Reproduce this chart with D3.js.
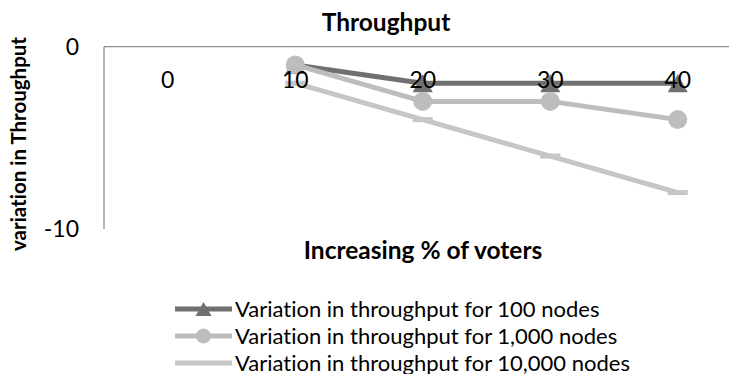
<!DOCTYPE html>
<html>
<head>
<meta charset="utf-8">
<script src="https://cdn.jsdelivr.net/npm/d3@7"></script>
<style>
  html, body { margin: 0; padding: 0; background: #fff; }
  svg { display: block; font-family: Lato, "Open Sans", sans-serif; font-variant-ligatures: none; }
</style>
</head>
<body>
<svg id="chart" width="729" height="374"></svg>
<script>
// Categories on the x axis (% of voters)
const categories = ["0", "10", "20", "30", "40"];

// Variation in throughput per network size (null = no value)
const nodes100 = [null, -1, -2, -2, -2];
const nodes1000 = [null, -1, -3, -3, -4];
const nodes10000 = [null, -2, -4, -6, -8];

const seriesNames = [
  "Variation in throughput for 100 nodes",
  "Variation in throughput for 1,000 nodes",
  "Variation in throughput for 10,000 nodes"
];

const yTicks = [0, -10];

const series = [
  { name: seriesNames[0], values: nodes100, color: "#707070", marker: "triangle" },
  { name: seriesNames[1], values: nodes1000, color: "#bdbdbd", marker: "circle" },
  { name: seriesNames[2], values: nodes10000, color: "#c6c6c6", marker: "dash" }
];

const svg = d3.select("#chart");
const plot = { left: 104, right: 741.5, top: 46.7, bottom: 229 };

const x = d3.scaleBand().domain(categories).range([plot.left, plot.right]);
const y = d3.scaleLinear().domain([-10, 0]).range([plot.bottom, plot.top]);
const cx = c => x(c) + x.bandwidth() / 2;

// Axis lines: horizontal axis sits at y = 0 (top of the plot)
const axisColor = "#8f8f8f";
svg.append("line")
  .attr("x1", plot.left).attr("x2", plot.right)
  .attr("y1", y(0)).attr("y2", y(0))
  .attr("stroke", axisColor).attr("stroke-width", 1.3);
svg.append("line")
  .attr("x1", plot.left).attr("x2", plot.left)
  .attr("y1", y(0)).attr("y2", y(-10))
  .attr("stroke", axisColor).attr("stroke-width", 1.3);

// Y tick labels (plain hyphen for negatives)
const yAxis = d3.axisLeft(y).tickValues(yTicks).tickSize(0).tickPadding(0)
  .tickFormat(d => String(d));
const yG = svg.append("g").attr("transform", `translate(${plot.left - 25},0)`).call(yAxis);
yG.select(".domain").remove();
yG.selectAll("text").attr("font-size", 23).attr("fill", "#000")
  .attr("font-family", "Lato, sans-serif");

// Marker shapes
function drawMarker(g, kind, color) {
  if (kind === "triangle") {
    g.append("path").attr("d", "M0,-9L10,9L-10,9Z").attr("fill", color);
  } else if (kind === "circle") {
    g.append("circle").attr("r", 9.5).attr("fill", color);
  } else {
    g.append("rect").attr("x", -10).attr("y", -2.5).attr("width", 20).attr("height", 5).attr("fill", color);
  }
}

const line = d3.line()
  .defined(d => d.v !== null)
  .x(d => cx(d.c))
  .y(d => y(d.v));

series.forEach(s => {
  const pts = categories.map((c, i) => ({ c, v: s.values[i] }));
  svg.append("path")
    .datum(pts)
    .attr("d", line)
    .attr("fill", "none")
    .attr("stroke", s.color)
    .attr("stroke-width", 5)
    .attr("stroke-linejoin", "round");
  pts.filter(p => p.v !== null).forEach(p => {
    const g = svg.append("g").attr("transform", `translate(${cx(p.c)},${y(p.v)})`);
    drawMarker(g, s.marker, s.color);
  });
});

// Category labels, drawn just below the horizontal axis
const xAxis = d3.axisBottom(x).tickSize(0).tickPadding(0);
const xG = svg.append("g").attr("transform", `translate(0,${y(0) + 25})`).call(xAxis);
xG.select(".domain").remove();
xG.selectAll("text").attr("font-size", 23).attr("fill", "#000")
  .attr("font-family", "Lato, sans-serif");

// Titles
svg.append("text")
  .attr("x", 386).attr("y", 31)
  .attr("text-anchor", "middle")
  .attr("font-size", 24.5).attr("font-weight", "bold")
  .text("Throughput");

svg.append("text")
  .attr("x", 423).attr("y", 259)
  .attr("text-anchor", "middle")
  .attr("font-size", 24.5).attr("font-weight", "bold")
  .text("Increasing % of voters");

svg.append("text")
  .attr("transform", "translate(26,144) rotate(-90)")
  .attr("text-anchor", "middle")
  .attr("font-size", 20.5).attr("font-weight", "bold")
  .text("variation in Throughput");

// Legend
const legend = svg.append("g");
series.forEach((s, i) => {
  const ly = 309 + i * 27;
  legend.append("line")
    .attr("x1", 175).attr("x2", 232)
    .attr("y1", ly).attr("y2", ly)
    .attr("stroke", s.color).attr("stroke-width", 5);
  if (s.marker !== "dash") {
    const g = legend.append("g").attr("transform", `translate(203.5,${ly})`);
    if (s.marker === "triangle") {
      g.append("path").attr("d", "M0,-7L8,7L-8,7Z").attr("fill", s.color);
    } else {
      g.append("circle").attr("r", 7.5).attr("fill", s.color);
    }
  }
  legend.append("text")
    .attr("x", 235).attr("y", ly + 7.5)
    .attr("font-size", 22)
    .text(s.name);
});
</script>
</body>
</html>
